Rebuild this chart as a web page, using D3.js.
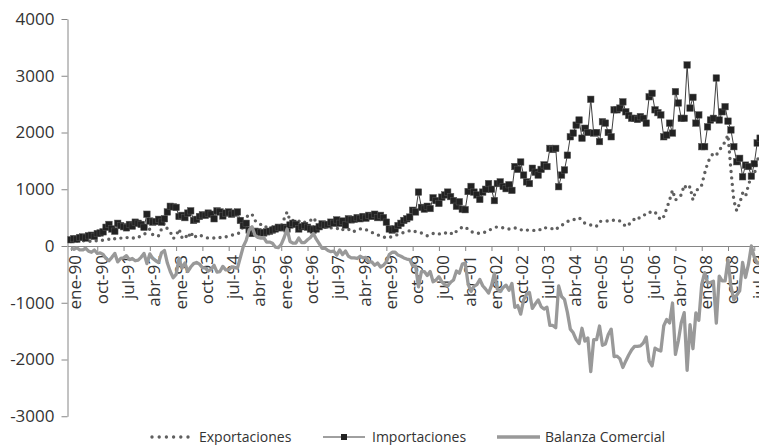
<!DOCTYPE html>
<html>
<head>
<meta charset="utf-8">
<script src="https://d3js.org/d3.v7.min.js"></script>
<style>
  body { margin: 0; background: #fff; }
  svg { display: block; font-family: "Open Sans", sans-serif; }
</style>
</head>
<body>
<div id="chart"></div>
<script>
// Categorias: meses de ene-90 a dic-09
const meses = ["ene", "feb", "mar", "abr", "may", "jun", "jul", "ago", "sep", "oct", "nov", "dic"];
const anios = ["90", "91", "92", "93", "94", "95", "96", "97", "98", "99",
               "00", "01", "02", "03", "04", "05", "06", "07", "08", "09"];

const tickLabels = ["ene-90", "oct-90", "jul-91", "abr-92", "ene-93", "oct-93", "jul-94",
  "abr-95", "ene-96", "oct-96", "jul-97", "abr-98", "ene-99", "oct-99", "jul-00", "abr-01",
  "ene-02", "oct-02", "jul-03", "abr-04", "ene-05", "oct-05", "jul-06", "abr-07", "ene-08",
  "oct-08", "jul-09"];

const yTicks = [-3000, -2000, -1000, 0, 1000, 2000, 3000, 4000];

// Valores mensuales
const exportaciones = [
  80, 70, 90, 80, 90, 100, 90, 80, 100, 90, 110, 100,            // 1990
  110, 120, 100, 130, 120, 140, 130, 150, 140, 130, 160, 150,    // 1991
  180, 200, 250, 300, 200, 170, 180, 300, 400, 300, 250, 130,    // 1992
  180, 300, 150, 200, 130, 250, 140, 180, 200, 170, 150, 140,    // 1993
  150, 140, 160, 150, 170, 160, 180, 190, 200, 210, 250, 350,    // 1994
  500, 560, 560, 450, 400, 380, 380, 320, 330, 330, 280, 300,    // 1995
  350, 480, 600, 450, 450, 430, 440, 400, 420, 440, 450, 500,    // 1996
  420, 380, 350, 330, 300, 320, 310, 300, 330, 290, 280, 300,    // 1997
  250, 260, 280, 300, 310, 290, 260, 240, 220, 200, 170, 160,    // 1998
  140, 150, 170, 190, 200, 220, 240, 250, 270, 280, 250, 230,    // 1999
  230, 200, 180, 210, 220, 200, 210, 230, 220, 250, 230, 200,    // 2000
  260, 300, 330, 340, 290, 250, 240, 220, 230, 250, 240, 270,    // 2001
  300, 320, 340, 330, 320, 320, 300, 320, 320, 300, 280, 300,    // 2002
  280, 280, 270, 280, 300, 280, 320, 320, 320, 300, 280, 340,    // 2003
  360, 400, 430, 460, 460, 480, 500, 450, 400, 380, 370, 340,    // 2004
  350, 430, 440, 440, 440, 460, 450, 460, 440, 400, 340, 380,    // 2005
  420, 480, 460, 520, 540, 560, 600, 580, 600, 520, 460, 520,    // 2006
  660, 810, 985, 810, 850, 900, 1075, 1000, 1045, 810, 985, 1000, // 2007
  1075, 1280, 1455, 1575, 1630, 1600, 1690, 1750, 1840, 1955, 1340, 800, // 2008
  620, 755, 930, 870, 1075, 1230, 1250, 1515, 1600               // 2009
];

const importaciones = [
  110, 130, 120, 150, 160, 140, 180, 190, 170, 220, 230, 250,    // 1990
  330, 380, 300, 260, 400, 360, 340, 320, 380, 350, 420, 400,    // 1991
  380, 330, 560, 440, 420, 430, 470, 420, 480, 600, 700, 690,    // 1992
  680, 520, 540, 500, 580, 620, 450, 470, 520, 550, 540, 580,    // 1993
  560, 480, 620, 600, 530, 580, 600, 560, 580, 600, 450, 360,    // 1994
  400, 280, 220, 260, 250, 240, 230, 250, 260, 280, 300, 330,    // 1995
  320, 330, 300, 370, 400, 380, 300, 340, 360, 330, 300, 280,    // 1996
  300, 340, 390, 370, 380, 420, 400, 460, 400, 440, 370, 480,    // 1997
  460, 470, 500, 480, 520, 490, 540, 520, 560, 500, 540, 500,    // 1998
  420, 300, 280, 300, 360, 400, 450, 480, 510, 630, 600, 950,    // 1999
  680, 650, 700, 660, 850, 800, 750, 860, 900, 950, 870, 800,    // 2000
  700, 780, 650, 640, 960, 1050, 950, 900, 820, 950, 1000, 1100, // 2001
  1000, 800, 1100, 1130, 1050, 1010, 1080, 980, 1400, 1350, 1480, 1250, // 2002
  1130, 1100, 1370, 1300, 1250, 1350, 1430, 1400, 1720, 1700, 1720, 1045, // 2003
  1250, 1340, 1600, 1925, 1990, 2130, 2220, 1900, 2075, 2000, 2585, 1990, // 2004
  2000, 1840, 2190, 2165, 2000, 1925, 2400, 2400, 2430, 2540, 2365, 2300, // 2005
  2250, 2250, 2230, 2280, 2250, 2165, 2630, 2690, 2400, 2350, 2310, 1925, // 2006
  1955, 2165, 1990, 2720, 2520, 2250, 2250, 3190, 2430, 2620, 2165, 2310, // 2007
  1750, 1750, 2100, 2220, 2250, 2960, 2220, 2365, 2455, 2200, 2045, 1750, // 2008
  1485, 1545, 1220, 1425, 1400, 1230, 1450, 1815, 1900           // 2009
];

const balanza = [
  -30, -60, -30, -70, -70, -40, -90, -110, -70, -130, -120, -150,       // 1990
  -220, -260, -200, -130, -280, -220, -210, -170, -240, -220, -260, -250, // 1991
  -200, -130, -310, -140, -220, -260, -290, -120, -80, -300, -450, -560,  // 1992
  -500, -220, -390, -300, -450, -370, -310, -290, -320, -380, -390, -440, // 1993
  -410, -340, -460, -450, -360, -420, -420, -370, -380, -390, -200, -10,  // 1994
  100, 280, 340, 190, 150, 140, 150, 70, 70, 50, -20, -30,                // 1995
  30, 150, 300, 80, 50, 50, 140, 60, 60, 110, 150, 220,                   // 1996
  120, 40, -40, -40, -80, -100, -90, -160, -70, -150, -90, -180,          // 1997
  -210, -210, -220, -180, -210, -200, -280, -280, -340, -300, -370, -340, // 1998
  -280, -150, -110, -110, -160, -180, -210, -230, -240, -350, -350, -720, // 1999
  -450, -450, -520, -450, -630, -600, -540, -630, -680, -700, -640, -600, // 2000
  -440, -480, -320, -300, -670, -800, -710, -680, -590, -700, -760, -830, // 2001
  -700, -480, -760, -800, -730, -690, -780, -660, -1080, -1050, -1200, -950, // 2002
  -850, -820, -1100, -1020, -950, -1070, -1110, -1080, -1400, -1400, -1440, -705, // 2003
  -890, -940, -1170, -1465, -1530, -1650, -1720, -1450, -1675, -1620, -2215, -1650, // 2004
  -1650, -1410, -1750, -1725, -1560, -1465, -1950, -1940, -1990, -2140, -2025, -1920, // 2005
  -1830, -1770, -1770, -1760, -1710, -1605, -2030, -2110, -1800, -1830, -1850, -1405, // 2006
  -1295, -1355, -1005, -1910, -1670, -1350, -1175, -2190, -1385, -1810, -1180, -1310, // 2007
  -675, -470, -645, -645, -620, -1360, -530, -615, -615, -245, -705, -950, // 2008
  -865, -790, -290, -555, -325, 0, -200, -300, -300                        // 2009
];

const leyenda = ["Exportaciones", "Importaciones", "Balanza Comercial"];

const width = 759;
const height = 445;
const axisColor = "#868686";
const textColor = "#333333";

const categories = anios.flatMap((a) => meses.map((m) => `${m}-${a}`));

const svg = d3
  .select("#chart")
  .append("svg")
  .attr("width", width)
  .attr("height", height);

const x = d3
  .scalePoint()
  .domain(categories)
  .range([71, 71 + 2.92 * (categories.length - 1)]);

const y = d3.scaleLinear().domain([-3000, 4000]).range([416.25, 19]);

// Eje Y
svg
  .append("g")
  .attr("transform", "translate(67.5,0)")
  .call(
    d3
      .axisLeft(y)
      .tickValues(yTicks)
      .tickFormat((d) => String(d))
      .tickSize(6)
      .tickSizeOuter(0)
      .tickPadding(7)
  )
  .call((g) => {
    g.select(".domain").attr("stroke", axisColor);
    g.selectAll(".tick line").attr("stroke", axisColor);
    g.selectAll(".tick text")
      .attr("font-size", 17)
      .attr("font-family", "Open Sans")
      .attr("fill", textColor);
  });

// Eje X (en el cero)
svg
  .append("g")
  .attr("transform", `translate(0,${y(0)})`)
  .call(d3.axisBottom(x).tickValues(tickLabels).tickSize(5).tickSizeOuter(0))
  .call((g) => {
    g.select(".domain").attr("d", `M68,0.5H${width + 20}`).attr("stroke", axisColor);
    g.selectAll(".tick line").attr("stroke", axisColor);
    g.selectAll(".tick text")
      .attr("transform", "rotate(-90)")
      .attr("text-anchor", "end")
      .attr("x", -9)
      .attr("y", 4)
      .attr("dy", "0.35em")
      .attr("font-size", 17)
      .attr("font-family", "Open Sans")
      .attr("fill", textColor);
  });

const line = d3
  .line()
  .x((d, i) => x(categories[i]))
  .y((d) => y(d));

// Exportaciones: linea punteada
svg
  .append("path")
  .datum(exportaciones)
  .attr("fill", "none")
  .attr("stroke", "#5f5f5f")
  .attr("stroke-width", 3.4)
  .attr("stroke-linecap", "round")
  .attr("stroke-dasharray", "0 6.5")
  .attr("d", line);

// Importaciones: linea fina con marcadores cuadrados
svg
  .append("path")
  .datum(importaciones)
  .attr("fill", "none")
  .attr("stroke", "#404040")
  .attr("stroke-width", 1)
  .attr("d", line);

svg
  .append("g")
  .selectAll("rect")
  .data(importaciones)
  .join("rect")
  .attr("x", (d, i) => x(categories[i]) - 3.25)
  .attr("y", (d) => y(d) - 3.25)
  .attr("width", 6.5)
  .attr("height", 6.5)
  .attr("fill", "#222222")
  .attr("stroke", "#555555")
  .attr("stroke-width", 0.5);

// Balanza comercial: linea gruesa gris
svg
  .append("path")
  .datum(balanza)
  .attr("fill", "none")
  .attr("stroke", "#999999")
  .attr("stroke-width", 3.3)
  .attr("stroke-linejoin", "round")
  .attr("d", line);

// Leyenda
const legendX = [150, 323, 497];
const legendY = 437;
const legend = svg.append("g").attr("font-size", 14).attr("fill", textColor);

leyenda.forEach((name, j) => {
  const g = legend.append("g").attr("transform", `translate(${legendX[j]},${legendY})`);
  if (j === 0) {
    g.append("line")
      .attr("x1", 2).attr("x2", 42)
      .attr("stroke", "#5f5f5f")
      .attr("stroke-width", 3.4)
      .attr("stroke-linecap", "round")
      .attr("stroke-dasharray", "0 7.2");
  } else if (j === 1) {
    g.append("line").attr("x1", 0).attr("x2", 42).attr("stroke", "#404040").attr("stroke-width", 1);
    g.append("rect")
      .attr("x", 18).attr("y", -3).attr("width", 6).attr("height", 6)
      .attr("fill", "#222222");
  } else {
    g.append("line").attr("x1", 0).attr("x2", 43).attr("stroke", "#999999").attr("stroke-width", 3.3);
  }
  g.append("text")
    .attr("x", j === 2 ? 48 : 49)
    .attr("dy", "0.35em")
    .text(name);
});
</script>
</body>
</html>
